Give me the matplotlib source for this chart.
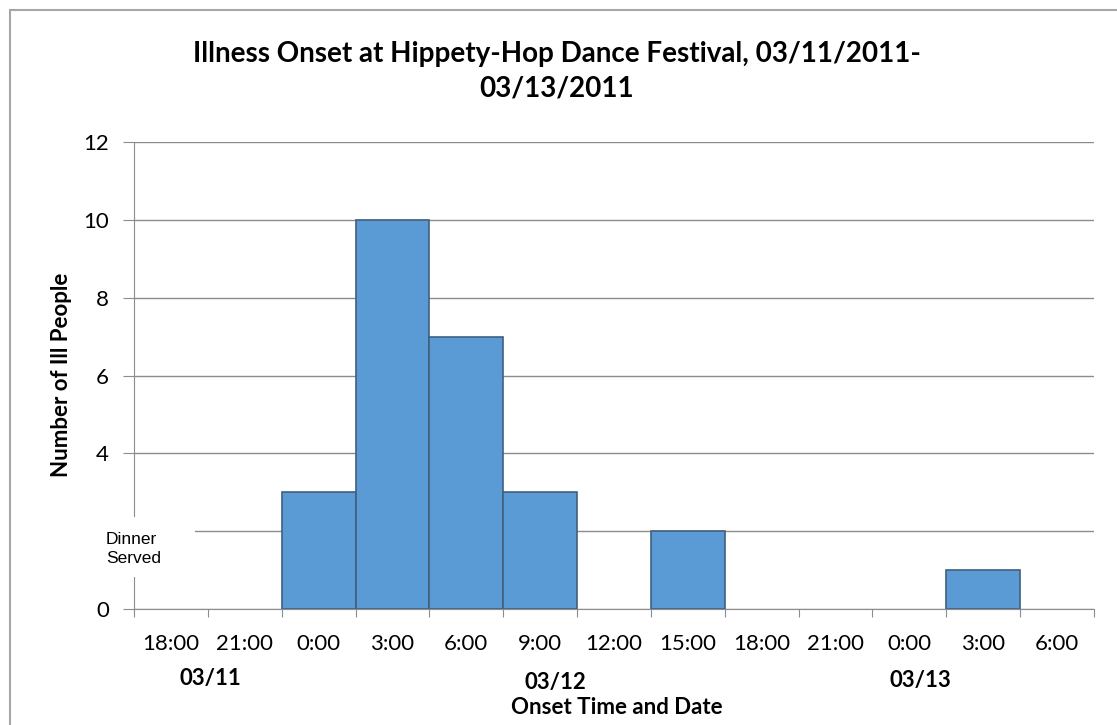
import numpy as np
import matplotlib.pyplot as plt
from matplotlib.patches import Rectangle

times = ['18:00', '21:00', '0:00', '3:00', '6:00', '9:00', '12:00',
         '15:00', '18:00', '21:00', '0:00', '3:00', '6:00']
cases = [0, 0, 3, 10, 7, 3, 0, 2, 0, 0, 0, 1, 0]
ytick_vals = [0, 2, 4, 6, 8, 10, 12]
ytick_labels = ['0', '', '4', '6', '8', '10', '12']
dates = ['03/11', '03/12', '03/13']
date_xy = [(210, 678), (555, 683), (920, 680)]   # pixel centres

plt.rcParams['font.family'] = ['Lato', 'DejaVu Sans']

W, H = 1117, 725
fig = plt.figure(figsize=(W / 100, H / 100), dpi=100)
ax = fig.add_axes([134 / W, 1 - 609 / H, 960 / W, 467 / H])

def fx(px):
    return px / W

def fy(py):
    return 1 - py / H

# outer chart border (only left and top inside the picture)
fig.patches.append(Rectangle((fx(10), -0.05), 1.1, fy(10) + 0.05,
                             transform=fig.transFigure, fill=False,
                             edgecolor='#a6a6a6', linewidth=1.5))

x = np.arange(len(times))
edges = ['#41607f' if c > 0 else 'none' for c in cases]
ax.bar(x, cases, width=1.0, color='#5b9bd5', edgecolor=edges, linewidth=1.2, zorder=3)

ax.set_xlim(-0.5, len(times) - 0.5)
ax.set_ylim(0, 12)
ax.set_yticks(ytick_vals)
ax.set_yticklabels(ytick_labels, fontsize=16)
ax.yaxis.grid(True, color='#8c8c8c', linewidth=1.0, zorder=0)

ax.set_xticks(np.arange(-0.5, len(times)), minor=False)
ax.set_xticklabels([])
ax.set_xticks(x, minor=True)
ax.set_xticklabels(times, minor=True, fontsize=16)
ax.tick_params(axis='x', which='major', length=6, color='#8c8c8c', direction='out')
ax.tick_params(axis='x', which='minor', length=0, pad=18)
ax.tick_params(axis='y', length=8, color='#8c8c8c', pad=10)

for s in ['top', 'right']:
    ax.spines[s].set_visible(False)
for s in ['left', 'bottom']:
    ax.spines[s].set_color('#8c8c8c')
    ax.spines[s].set_zorder(4)

fig.text(fx(62), fy(375), 'Number of Ill People', rotation=90, ha='center', va='center',
         fontsize=16, fontweight='bold')

for d, (px, py) in zip(dates, date_xy):
    fig.text(fx(px), fy(py), d, ha='center', va='center', fontsize=16, fontweight='bold')

fig.text(fx(617), fy(708), 'Onset Time and Date', ha='center', va='center',
         fontsize=16, fontweight='bold')

# white label box covering the axis near the 2 gridline
fig.patches.append(Rectangle((fx(98), fy(577)), fx(195) - fx(98), fy(517) - fy(577),
                             transform=fig.transFigure, facecolor='white',
                             edgecolor='none', zorder=10))
fig.text(fx(106), fy(549), 'Dinner\nServed', ha='left', va='center',
         fontsize=12.5, linespacing=1.4, zorder=11, family=['Liberation Sans', 'DejaVu Sans'])

fig.text(fx(557), fy(71), 'Illness Onset at Hippety-Hop Dance Festival, 03/11/2011-\n03/13/2011',
         ha='center', va='center', fontsize=20, fontweight='bold', linespacing=1.4)

plt.savefig('out.png', dpi=100)
